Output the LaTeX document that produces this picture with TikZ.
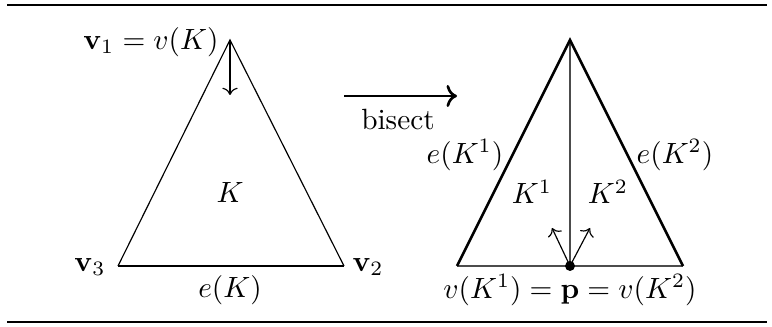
\documentclass[tikz,border=0pt]{standalone}
\usepackage{amsmath}
\usepackage{bm}
\usepackage{tikz}
\usetikzlibrary{arrows.meta,calc,positioning}

\begin{document}
\begin{tikzpicture}[
    x=1.2cm,
    y=1.2cm,
    thinedge/.style={
        draw=black,
        line width=0.4pt
    },
    refedge/.style={
        draw=black,
        line width=0.9pt
    },
    newedge/.style={
        draw=black!70,
        line width=0.55pt
    },
    vecline/.style={
        draw=black,
        line width=0.4pt,
        ->
    },
    rulebar/.style={
        draw=black,
        line width=0.9pt
    }
]
\useasboundingbox (0,0) rectangle (7.72,3.27);

% rules
\coordinate (ruleTL) at (0.07,3.22);
\coordinate (ruleTR) at (7.67,3.22);
\coordinate (ruleBL) at (0.07,0.05);
\coordinate (ruleBR) at (7.67,0.05);
\draw[rulebar] (ruleTL) -- (ruleTR);
\draw[rulebar] (ruleBL) -- (ruleBR);

% Parent element
\coordinate (v1) at (2.30,2.87);
\coordinate (v2) at (3.44,0.61);
\coordinate (v3) at (1.18,0.61);

\draw[thinedge] (v3) -- (v1) -- (v2);
\draw[refedge] (v3) -- (v2);

\coordinate (down) at (2.30,2.32);
\draw[vecline] (v1) -- (down);

\node[anchor=east,inner sep=0pt] (lbv1) at (2.19,2.85)
{$\mathbf{v}_1 = v(K)$};
\node[anchor=east,inner sep=0pt] (lbv3) at (1.06,0.60) {$\mathbf{v}_3$};
\node[anchor=west,inner sep=0pt] (lbv2) at (3.52,0.60) {$\mathbf{v}_2$};
\node (lbeK) at (2.30,0.37) {$e(K)$};
\node (lbK) at (2.30,1.35) {$K$};

% bisect
\coordinate (arrA) at (3.44,2.31);
\coordinate (arrB) at (4.57,2.31);
\draw[refedge,->] (arrA) -- (arrB);
\node (lbbis) at (3.98,2.07) {bisect};

% Children
\coordinate (w1) at (5.70,2.87);
\coordinate (w2) at (6.83,0.61);
\coordinate (w3) at (4.57,0.61);
\coordinate (p) at (5.70,0.61);

\draw[newedge] (w3) -- (w2);
\draw[newedge] (p) -- (w1);
\draw[refedge] (w3) -- (w1) -- (w2);

\coordinate (n1) at (5.52,0.99);
\coordinate (n2) at (5.90,0.99);
\draw[vecline] (p) -- (n1);
\draw[vecline] (p) -- (n2);
\fill (p) circle (1.7pt);

\node (lbe1) at (4.65,1.72) {$e(K^1)$};
\node (lbe2) at (6.75,1.72) {$e(K^2)$};
\node (lbK1) at (5.32,1.35) {$K^1$};
\node (lbK2) at (6.08,1.35) {$K^2$};
\node (lbp) at (5.70,0.37) {$v(K^1) = \mathbf{p} = v(K^2)$};

\end{tikzpicture}
\end{document}
